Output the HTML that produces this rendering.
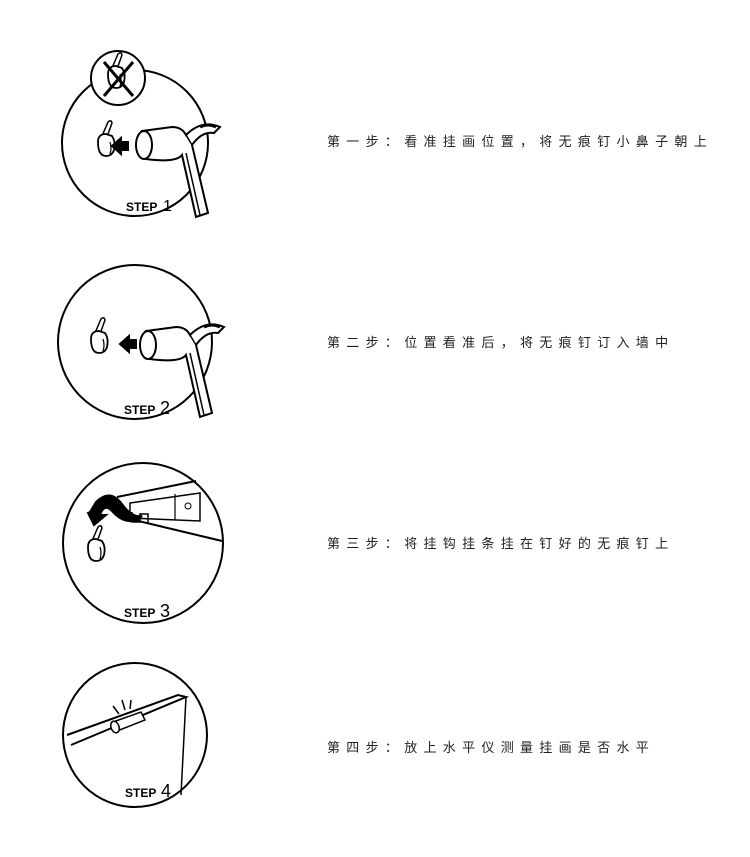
<!DOCTYPE html>
<html><head><meta charset="utf-8"><style>
body{margin:0;background:#fff;width:750px;height:857px;overflow:hidden;position:relative}
.t{position:absolute;left:327px;font-family:"Liberation Sans","Noto Sans CJK SC",sans-serif;font-size:13px;letter-spacing:6.3px;color:#222;white-space:nowrap;line-height:15px}
svg{position:absolute;left:0;top:0}
</style></head><body>
<svg width="750" height="857" viewBox="0 0 750 857" fill="none" stroke="#000" stroke-width="2" font-family="Liberation Sans, sans-serif">
<defs>
<g id="ham">
<path d="M0 -14 L30 -18 Q40 -18 44 -10 Q60 -26 78 -18 L72 -12 Q60 -14 50 0 L66 68 L54 72 L40 10 Q34 18 4 14 Z" fill="#fff"/>
<path d="M44 -10 L50 0" stroke-width="1.5"/>
<path d="M58 -18 Q66 -22 74 -18" stroke-width="3"/>
<path d="M44 8 L58 70" stroke-width="1.5"/>
<ellipse cx="2" cy="0" rx="8" ry="14" fill="#fff"/>
</g>
<g id="nail">
<path d="M4 -2 l6 -14 q3 -3 4 1 l-5 14" stroke-width="1.5" fill="#fff"/>
<path d="M0 4 q0 -8 8 -8 l6 2 q4 6 2 14 q-2 6 -8 6 q-8 0 -8 -14z" stroke-width="1.8" fill="#fff"/>
<path d="M12 4 q2 6 0 12" stroke-width="1.2"/>
</g>
</defs>
<!-- step1 -->
<circle cx="135" cy="143" r="73"/>
<circle cx="118" cy="78" r="27" fill="#fff"/>
<g transform="translate(108,70)" ><use href="#nail"/></g>
<path d="M104 62 L133 96 M133 62 L104 96" stroke-width="3"/>
<g transform="translate(98,138)"><use href="#nail"/></g>
<path d="M112 146 l9 -8 l0 4 l7 0 l0 8 l-7 0 l0 4z" fill="#000"/>
<g transform="translate(142,145)"><use href="#ham"/></g>
<text x="126" y="211" font-size="12" fill="#000" stroke="none" font-weight="bold">STEP</text>
<text x="163" y="211" font-size="16" fill="#000" stroke="none">1</text>
<!-- step2 -->
<circle cx="135" cy="342" r="77"/>
<g transform="translate(91,335)"><use href="#nail"/></g>
<path d="M120 344 l9 -8 l0 4 l7 0 l0 8 l-7 0 l0 4z" fill="#000"/>
<g transform="translate(146,345)"><use href="#ham"/></g>
<text x="124" y="414" font-size="12" fill="#000" stroke="none" font-weight="bold">STEP</text>
<text x="160" y="414" font-size="18" fill="#000" stroke="none">2</text>
<!-- step3 -->
<circle cx="143" cy="543" r="80"/>
<path d="M117 497 L196 481 M130 519 L222 541"/>
<path d="M130 503 l70 -10 l0 28 l-70 -3z" fill="#fff" stroke-width="1.5"/>
<path d="M175 494 l0 26" stroke-width="1.2"/>
<circle cx="188" cy="506" r="3" stroke-width="1"/>
<path d="M132 512 l0 10 l8 0 l0 -8 l8 0 l0 10" stroke-width="1.5"/>
<path d="M90 512 l6 -10 q14 -14 26 2 q10 14 20 12 l-6 5 q-14 2 -24 -10 q-8 -8 -12 4 l6 0 l-12 10 l-6 -12z" fill="#000"/>
<g transform="translate(88,543)"><use href="#nail"/></g>
<text x="124" y="617" font-size="12" fill="#000" stroke="none" font-weight="bold">STEP</text>
<text x="160" y="617" font-size="18" fill="#000" stroke="none">3</text>
<!-- step4 -->
<circle cx="135" cy="735" r="72"/>
<path d="M67 735 L178 695 L186 697 L71 745"/>
<path d="M186 697 L181 795" stroke-width="1.5"/>
<path d="M113 722 l28 -10 l4 8 l-28 11z" fill="#fff" stroke-width="1.5"/>
<ellipse cx="115" cy="727" rx="4" ry="6" fill="#fff" stroke-width="1.5" transform="rotate(-20 115 727)"/>
<path d="M113 706 l6 8 M122 700 l3 10 M131 700 l-1 9" stroke-width="1.5"/>
<text x="125" y="797" font-size="12" fill="#000" stroke="none" font-weight="bold">STEP</text>
<text x="161" y="797" font-size="18" fill="#000" stroke="none">4</text>
</svg>
<div class="t" style="top:134px">第一步：看准挂画位置，将无痕钉小鼻子朝上</div>
<div class="t" style="top:335px">第二步：位置看准后，将无痕钉订入墙中</div>
<div class="t" style="top:536px">第三步：将挂钩挂条挂在钉好的无痕钉上</div>
<div class="t" style="top:740px">第四步：放上水平仪测量挂画是否水平</div>
</body></html>
